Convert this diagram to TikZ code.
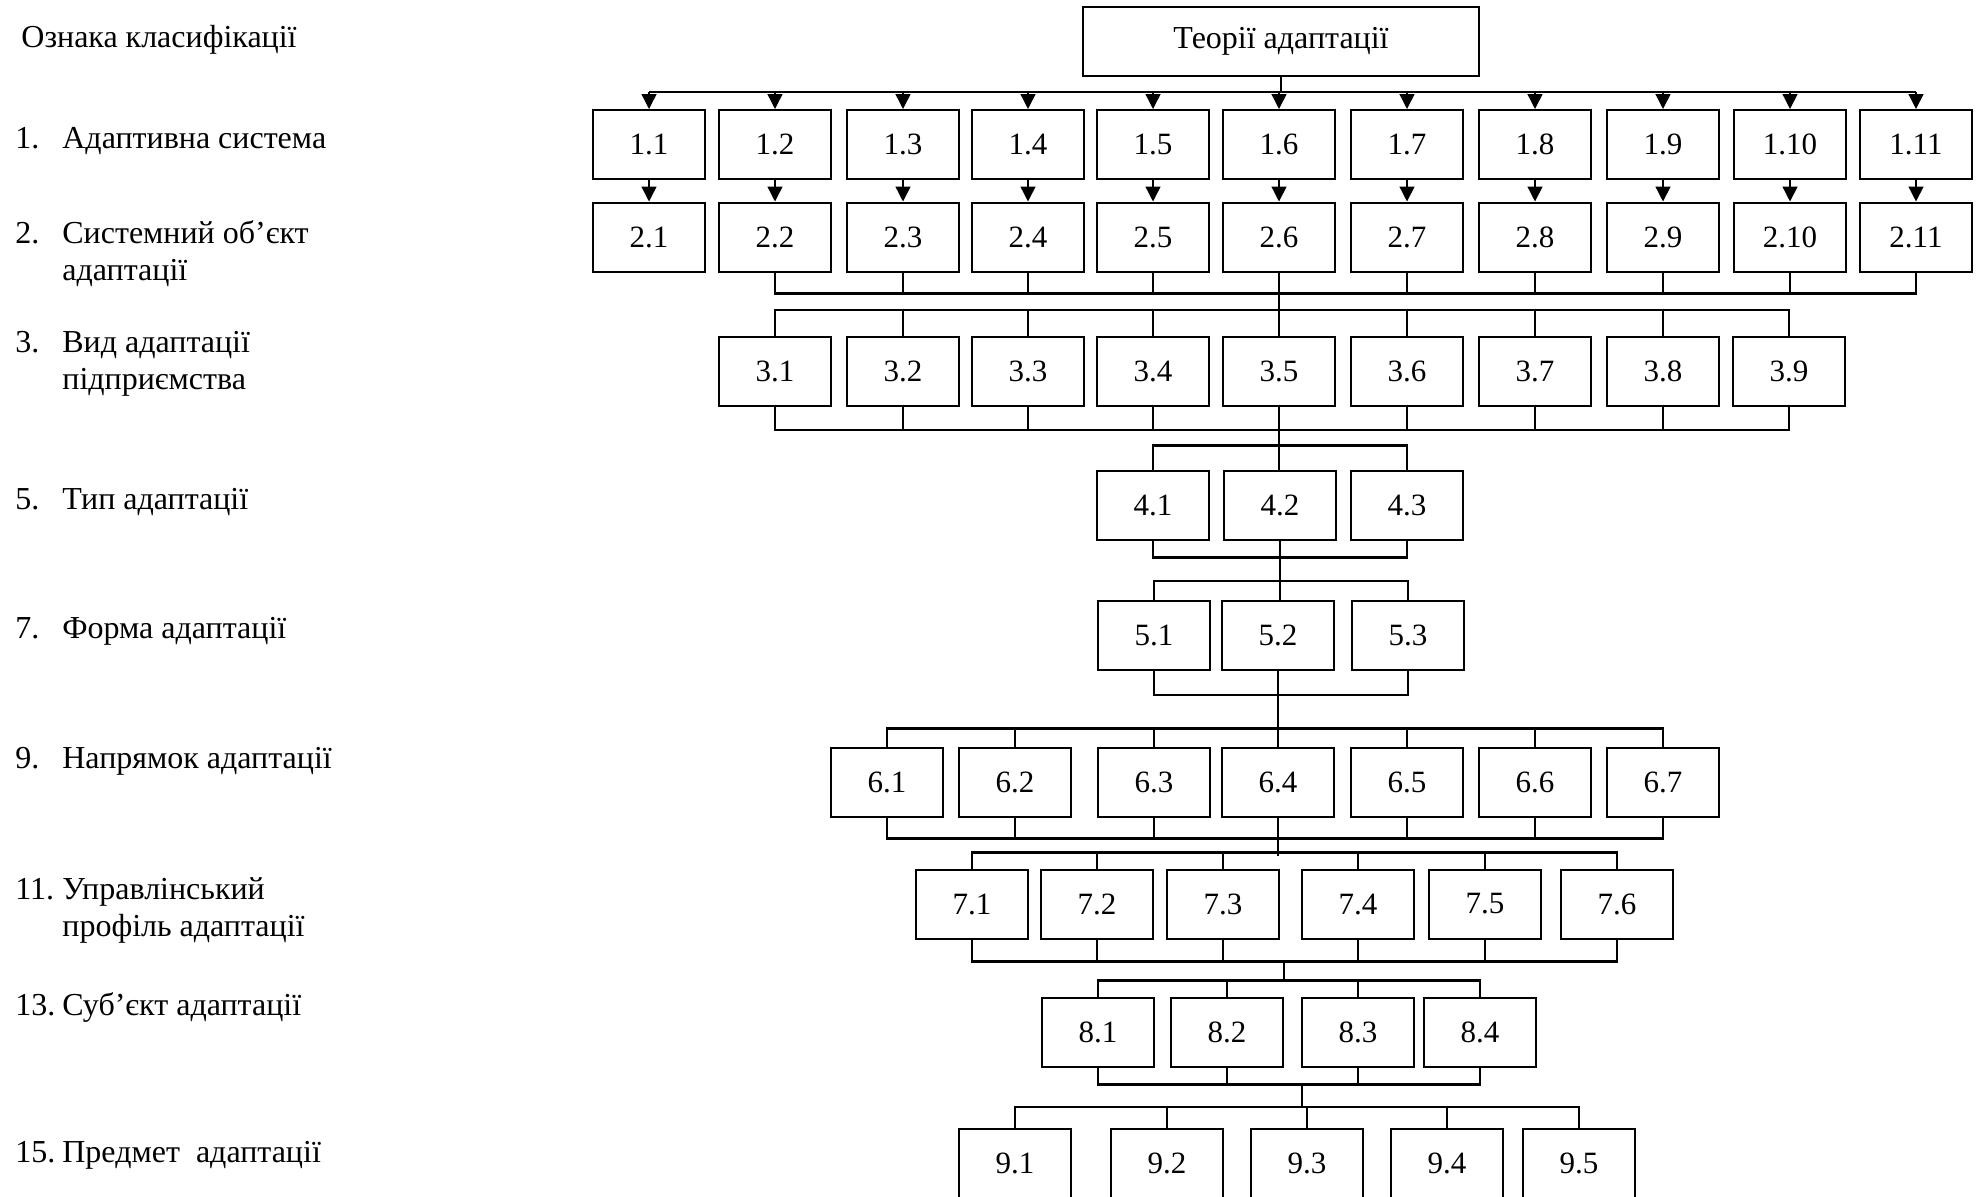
\documentclass[tikz,border=0pt]{standalone}
\usepackage{fontspec}
\setmainfont{Liberation Serif}
\usetikzlibrary{arrows.meta}

\tikzset{
  box/.style={draw, line width=1pt, minimum width=56pt, minimum height=34.5pt,
    inner sep=0pt, font=\fontsize{15.5}{18}\selectfont},
  lab/.style={anchor=base west, align=left, inner sep=0pt,
    font=\fontsize{16}{18.5}\selectfont},
  bus/.style={line width=1.1pt},
  tick/.style={line width=0.7pt},
  arr/.style={line width=0.7pt, -{Triangle[length=7.5pt,width=7.5pt]}}
}
\newcommand{\nm}[1]{\makebox[23.5pt][l]{#1}}

\begin{document}
\begin{tikzpicture}[x=0.5pt, y=-0.5pt]
\useasboundingbox (0,0) rectangle (1979,1196);

% Classification features
\node[lab] (h0) at (21,47) {Ознака класифікації};
\node[lab] (l1) at (15,148) {\nm{1.}Адаптивна система};
\node[lab] (l2) at (15,280) {\nm{2.}Системний об’єкт\\\hspace*{23.5pt}адаптації};
\node[lab] (l3) at (15,389) {\nm{3.}Вид адаптації\\\hspace*{23.5pt}підприємства};
\node[lab] (l5) at (15,509) {\nm{5.}Тип адаптації};
\node[lab] (l7) at (15,638) {\nm{7.}Форма адаптації};
\node[lab] (l9) at (15,768) {\nm{9.}Напрямок адаптації};
\node[lab] (l11) at (15,936) {\nm{11.}Управлінський\\\hspace*{23.5pt}профіль адаптації};
\node[lab] (l13) at (15,1015) {\nm{13.}Суб’єкт адаптації};
\node[lab] (l15) at (15,1162) {\nm{15.}Предмет~ адаптації};

% Root
\node[box, minimum width=198pt, font=\fontsize{16}{18}\selectfont] (top) at (1281,41.5) {Теорії адаптації};

% Row 1
\node[box] (a1) at (649,144.5) {1.1};
\node[box] (a2) at (775,144.5) {1.2};
\node[box] (a3) at (903,144.5) {1.3};
\node[box] (a4) at (1028,144.5) {1.4};
\node[box] (a5) at (1153,144.5) {1.5};
\node[box] (a6) at (1279,144.5) {1.6};
\node[box] (a7) at (1407,144.5) {1.7};
\node[box] (a8) at (1535,144.5) {1.8};
\node[box] (a9) at (1663,144.5) {1.9};
\node[box] (a10) at (1790,144.5) {1.10};
\node[box] (a11) at (1916,144.5) {1.11};

% Row 2
\node[box] (b1) at (649,237) {2.1};
\node[box] (b2) at (775,237) {2.2};
\node[box] (b3) at (903,237) {2.3};
\node[box] (b4) at (1028,237) {2.4};
\node[box] (b5) at (1153,237) {2.5};
\node[box] (b6) at (1279,237) {2.6};
\node[box] (b7) at (1407,237) {2.7};
\node[box] (b8) at (1535,237) {2.8};
\node[box] (b9) at (1663,237) {2.9};
\node[box] (b10) at (1790,237) {2.10};
\node[box] (b11) at (1916,237) {2.11};

% Row 3
\node[box] (c1) at (775,371.5) {3.1};
\node[box] (c2) at (903,371.5) {3.2};
\node[box] (c3) at (1028,371.5) {3.3};
\node[box] (c4) at (1153,371.5) {3.4};
\node[box] (c5) at (1279,371.5) {3.5};
\node[box] (c6) at (1407,371.5) {3.6};
\node[box] (c7) at (1535,371.5) {3.7};
\node[box] (c8) at (1663,371.5) {3.8};
\node[box] (c9) at (1789,371.5) {3.9};

% Row 4
\node[box] (d1) at (1153,505) {4.1};
\node[box] (d2) at (1280,505) {4.2};
\node[box] (d3) at (1407,505) {4.3};

% Row 5
\node[box] (e1) at (1154,635.5) {5.1};
\node[box] (e2) at (1278,635.5) {5.2};
\node[box] (e3) at (1408,635.5) {5.3};

% Row 6
\node[box] (f1) at (887,782) {6.1};
\node[box] (f2) at (1015,782) {6.2};
\node[box] (f3) at (1154,782) {6.3};
\node[box] (f4) at (1278,782) {6.4};
\node[box] (f5) at (1407,782) {6.5};
\node[box] (f6) at (1535,782) {6.6};
\node[box] (f7) at (1663,782) {6.7};

% Row 7
\node[box] (g1) at (972,904) {7.1};
\node[box] (g2) at (1097,904) {7.2};
\node[box] (g3) at (1223,904) {7.3};
\node[box] (g4) at (1358,904) {7.4};
\node[box] (g5) at (1485,904) {7.5};
\node[box] (g6) at (1617,904) {7.6};

% Row 8
\node[box] (h1) at (1098,1032) {8.1};
\node[box] (h2) at (1227,1032) {8.2};
\node[box] (h3) at (1358,1032) {8.3};
\node[box] (h4) at (1480,1032) {8.4};

% Row 9
\node[box] (k1) at (1015,1163.5) {9.1};
\node[box] (k2) at (1167,1163.5) {9.2};
\node[box] (k3) at (1307,1163.5) {9.3};
\node[box] (k4) at (1447,1163.5) {9.4};
\node[box] (k5) at (1579,1163.5) {9.5};

% junctions between buses
\coordinate (m1) at (1284,960);
\coordinate (m2) at (1302,1083);

% Arrows from the root
\draw[tick] (top.south) -- (top.south |- 0,93);
\draw[bus] ([yshift=8.5pt]a1.north) -- ([yshift=8.5pt]a11.north);
\foreach \i in {1,...,11} {
  \draw[arr] ([yshift=8.5pt]a\i.north) -- (a\i.north);
  \draw[arr] (a\i.south) -- (b\i.north);
}

% Brackets
\draw[bus] (b2.south) -- ++(0,21) -| (b11.south);
\foreach \i in {3,...,10} \draw[tick] (b\i.south) -- ++(0,21);
\draw[tick] (b6.south) -- (c5.north);

\draw[bus] (c1.north) -- ++(0,-26) -| (c9.north);
\draw[bus] (c1.south) -- ++(0,23) -| (c9.south);
\foreach \i in {2,...,8} {
  \draw[tick] (c\i.north) -- ++(0,-26);
  \draw[tick] (c\i.south) -- ++(0,23);
}
\draw[tick] (c5.south) -- (c5.south |- d2.north);

\draw[bus] (d1.north) -- ++(0,-24) -| (d3.north);
\draw[bus] (d1.south) -- ++(0,17) -| (d3.south);
\draw[tick] (d2.south) -- (d2.south |- e2.north);

\draw[bus] (e1.north) -- ++(0,-19) -| (e3.north);
\draw[bus] (e1.south) -- ++(0,24) -| (e3.south);
\draw[tick] (e2.south) -- (e2.south |- f4.north);

\draw[bus] (f1.north) -- ++(0,-18) -| (f7.north);
\draw[bus] (f1.south) -- ++(0,21) -| (f7.south);
\foreach \i in {2,...,6} {
  \draw[tick] (f\i.north) -- ++(0,-18);
  \draw[tick] (f\i.south) -- ++(0,21);
}
\draw[tick] (f4.south) -- ++(0,38);

\draw[bus] (g1.north) -- ++(0,-16) -| (g6.north);
\draw[bus] (g1.south) -- ++(0,22) -| (g6.south);
\foreach \i in {2,...,5} {
  \draw[tick] (g\i.north) -- ++(0,-16);
  \draw[tick] (g\i.south) -- ++(0,22);
}
\draw[tick] (m1) -- ++(0,22);

\draw[bus] (h1.north) -- ++(0,-16) -| (h4.north);
\draw[bus] (h1.south) -- ++(0,17) -| (h4.south);
\foreach \i in {2,3} {
  \draw[tick] (h\i.north) -- ++(0,-16);
  \draw[tick] (h\i.south) -- ++(0,17);
}
\draw[tick] (m2) -- ++(0,25);

\draw[bus] (k1.north) -- ++(0,-21) -| (k5.north);
\foreach \i in {2,3,4} \draw[tick] (k\i.north) -- ++(0,-21);

\end{tikzpicture}
\end{document}
